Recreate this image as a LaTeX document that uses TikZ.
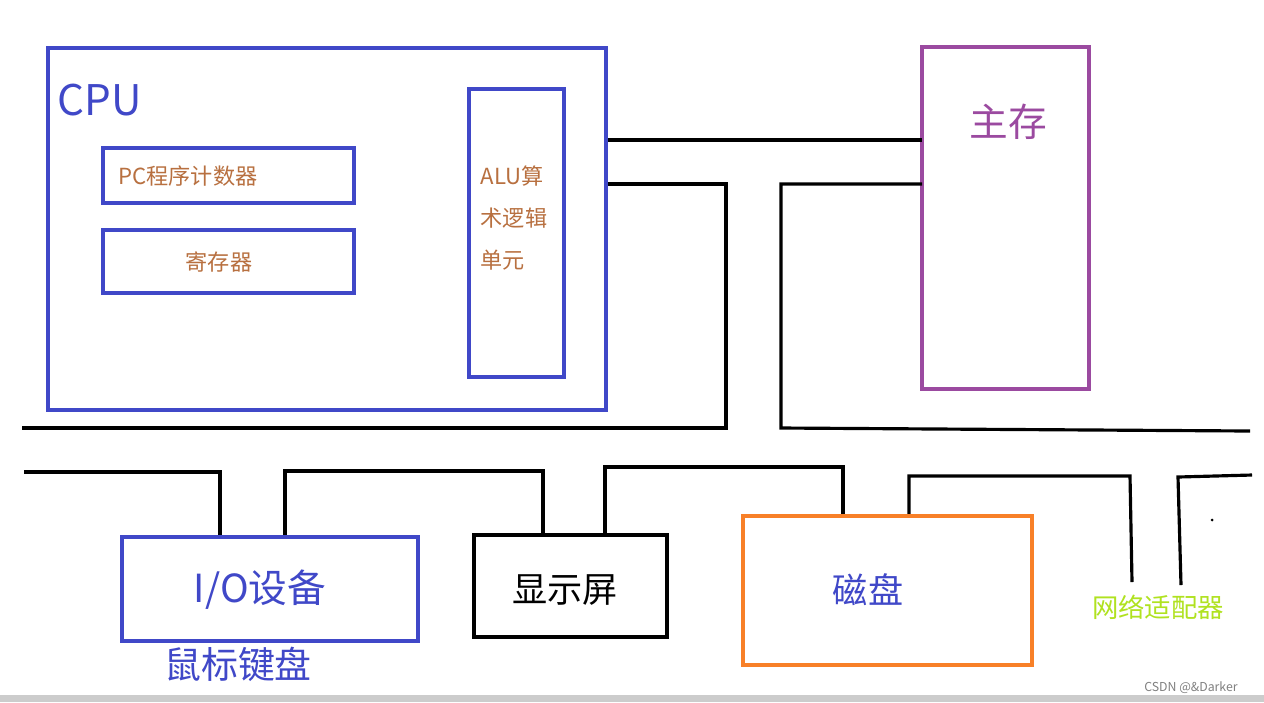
\documentclass[tikz,border=0pt]{standalone}
\usepackage{fontspec}
\setmainfont{Noto Sans CJK SC}
\usetikzlibrary{calc}
\definecolor{cpublue}{RGB}{64,72,200}
\definecolor{memviolet}{RGB}{155,74,160}
\definecolor{diskorange}{RGB}{248,128,40}
\definecolor{labelbrown}{RGB}{184,112,64}
\definecolor{netgreen}{RGB}{176,226,32}
\tikzstyle{block} = [draw, line width=0.9pt]
\tikzstyle{bus} = [line width=0.9pt, black]
\begin{document}
\begin{tikzpicture}[x=0.01cm,y=-0.01cm]
  \useasboundingbox (0,0) rectangle (1264,702);
  \fill[white] (0,0) rectangle (1264,702);

  % CPU and its parts
  \draw [block, cpublue] (48,48) rectangle (606,410);
  \node [cpublue, font=\fontsize{12}{14}\selectfont] (cpu) at (100,100) {CPU};
  \draw [block, cpublue] (103,148) rectangle (354,203);
  \node [labelbrown, anchor=west, font=\fontsize{6.3}{8}\selectfont] (pc) at (106,176) {PC程序计数器};
  \draw [block, cpublue] (103,230) rectangle (354,293);
  \node [labelbrown, font=\fontsize{6.3}{8}\selectfont] (reg) at (219,262) {寄存器};
  \draw [block, cpublue] (469,89) rectangle (564,377);
  \node [labelbrown, anchor=north west, align=left, inner sep=0pt,
         font=\fontsize{6.3}{12}\selectfont] (alu) at (480,165) {ALU算\\术逻辑\\单元};

  % Main memory
  \draw [block, memviolet] (922,47) rectangle (1089,389);
  \node [memviolet, font=\fontsize{11}{13}\selectfont] (mem) at (1008,122) {主存};

  % CPU -- memory bus
  \draw [bus] (608,140) -- (922,140);
  \draw [bus] (608,184) -| (726,428) -- (22,428);
  \draw [bus] (922,184) -| (781,428) -- (1250,431);

  % I/O bus
  \draw [bus] (24,472) -| (220,537);
  \draw [bus] (285,537) |- (543,471) -- (543,533);
  \draw [bus] (605,533) |- (843,467) -- (843,517);
  \draw [bus] (909,517) |- (1130,476) -- (1132,582);
  \draw [bus] (1181,585) -- (1178,477) -- (1252,475);
  \fill (1212,520) circle [radius=1.5];

  % Devices
  \draw [block, cpublue] (122,537) rectangle (418,641);
  \node [cpublue, font=\fontsize{11}{13}\selectfont] (io) at (260,590) {I/O设备};
  \node [cpublue, font=\fontsize{10.5}{12}\selectfont] (mouse) at (238,664) {鼠标键盘};
  \draw [block, black] (474,535) rectangle (667,637);
  \node [font=\fontsize{10}{12}\selectfont] (screen) at (565,590) {显示屏};
  \draw [block, diskorange] (743,516) rectangle (1032,665);
  \node [cpublue, font=\fontsize{10}{12}\selectfont] (disk) at (868,590) {磁盘};
  \node [netgreen, font=\fontsize{7.5}{9}\selectfont] (net) at (1158,607) {网络适配器};

  % Footer
  \fill [gray!40] (0,695) rectangle (1264,702);
  \node [gray, anchor=east, font=\fontsize{3.5}{4}\selectfont] (mark) at (1250,688) {CSDN @\&Darker};
\end{tikzpicture}
\end{document}
